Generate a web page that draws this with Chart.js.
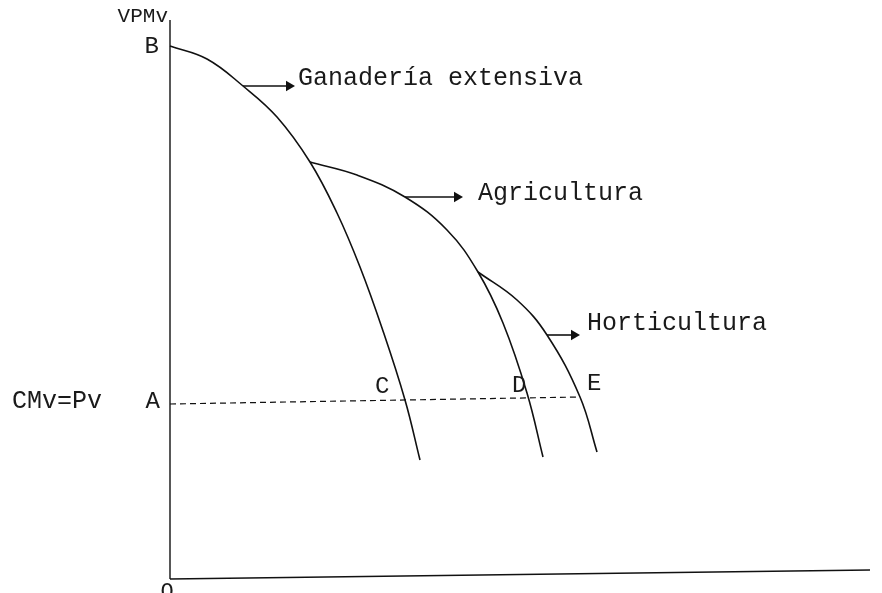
<!DOCTYPE html>
<html>
<head>
<meta charset="utf-8">
<script src="https://cdn.jsdelivr.net/npm/chart.js@4.4.1/dist/chart.umd.min.js"></script>
<style>
  html, body { margin: 0; padding: 0; background: #fff; }
  #wrap { width: 882px; height: 593px; position: relative; }
</style>
</head>
<body>
<div id="wrap"><canvas id="chart"></canvas></div>
<script>
// curvas de VPMv (valor del producto marginal) en unidades del diagrama
const ganaderiaX = [0, 3.7, 7.3, 10.7, 14.0, 16.7, 19.0, 21.2, 23.5, 25.0];
const ganaderiaY = [53.3, 52.0, 49.3, 46.2, 41.7, 36.6, 31.2, 25.1, 17.9, 11.9];
const agriculturaX = [14.0, 18.7, 23.5, 27.7, 30.8, 33.3, 35.7, 37.3];
const agriculturaY = [41.7, 40.4, 38.2, 34.9, 30.7, 25.6, 18.6, 12.2];
const horticulturaX = [30.8, 34.7, 37.7, 41.0, 42.7];
const horticulturaY = [30.7, 27.9, 24.4, 18.2, 12.7];

// linea CMv = Pv (A - C - D - E)
const precioX = [0, 41.0];
const precioY = [17.5, 18.2];

// ejes
const ejeYX = [0, 0];
const ejeYY = [0, 55.9];
const ejeXX = [0, 70.0];
const ejeXY = [0, 0.9];

// flechas que señalan cada curva
const flechaGanaderia = [[7.3, 49.3], [11.9, 49.3]];
const flechaAgricultura = [[23.5, 38.2], [28.7, 38.2]];
const flechaHorticultura = [[37.7, 24.4], [40.4, 24.4]];

// textos
const etiquetas = ["VPMv", "B", "Ganadería extensiva", "Agricultura", "Horticultura",
                   "CMv=Pv", "A", "C", "D", "E", "O"];
const etiquetaX = [-0.2, -1.1, 12.8, 30.8, 41.7, -15.8, -1.0, 20.5, 34.2, 41.7, -0.3];
const etiquetaY = [55.7, 52.6, 49.4, 37.9, 24.9, 17.1, 17.1, 18.6, 18.7, 18.9, -1.9];
const etiquetaAlign = ["right", "right", "left", "left", "left", "left", "right", "left", "left", "left", "center"];
const etiquetaSize = [21, 24, 25, 25, 25, 25, 24, 24, 24, 24, 22];

function puntos(xs, ys) {
    return xs.map((x, i) => ({ x: x, y: ys[i] }));
}

function curva(xs, ys) {
    return {
        data: puntos(xs, ys),
        borderColor: "#111",
        borderWidth: 1.6,
        pointRadius: 0,
        tension: 0.4,
        fill: false
    };
}

function recta(xs, ys, dash, width) {
    return {
        data: puntos(xs, ys),
        borderColor: "#111",
        borderWidth: width,
        borderDash: dash,
        pointRadius: 0,
        tension: 0,
        fill: false
    };
}

function flecha(p) {
    return {
        data: p.map(q => ({ x: q[0], y: q[1] })),
        borderColor: "#111",
        backgroundColor: "#111",
        borderWidth: 1.6,
        pointStyle: "triangle",
        rotation: 90,
        pointRadius: [0, 6],
        pointBorderWidth: 0,
        tension: 0,
        fill: false
    };
}

// dibuja los textos en coordenadas del diagrama
const textos = {
    id: "textos",
    afterDatasetsDraw(chart) {
        const ctx = chart.ctx;
        const sx = chart.scales.x, sy = chart.scales.y;
        ctx.save();
        ctx.fillStyle = "#1a1a1a";
        ctx.textBaseline = "alphabetic";
        etiquetas.forEach((t, i) => {
            ctx.font = etiquetaSize[i] + "px 'Liberation Mono', 'DejaVu Sans Mono', monospace";
            ctx.textAlign = etiquetaAlign[i];
            ctx.fillText(t, sx.getPixelForValue(etiquetaX[i]), sy.getPixelForValue(etiquetaY[i]));
        });
        ctx.restore();
    }
};

const ctx = document.getElementById("chart").getContext("2d");
new Chart(ctx, {
    type: "line",
    data: {
        datasets: [
            recta(ejeYX, ejeYY, [], 1.4),
            recta(ejeXX, ejeXY, [], 1.6),
            curva(ganaderiaX, ganaderiaY),
            curva(agriculturaX, agriculturaY),
            curva(horticulturaX, horticulturaY),
            recta(precioX, precioY, [6, 4], 1.2),
            flecha(flechaGanaderia),
            flecha(flechaAgricultura),
            flecha(flechaHorticultura)
        ]
    },
    options: {
        responsive: true,
        maintainAspectRatio: false,
        animation: false,
        layout: { padding: 0, autoPadding: false },
        plugins: { legend: { display: false }, tooltip: { enabled: false } },
        scales: {
            x: { type: "linear", display: false, min: -17.0, max: 71.2 },
            y: { type: "linear", display: false, min: -1.4, max: 57.9 }
        }
    },
    plugins: [textos]
});
</script>
</body>
</html>
